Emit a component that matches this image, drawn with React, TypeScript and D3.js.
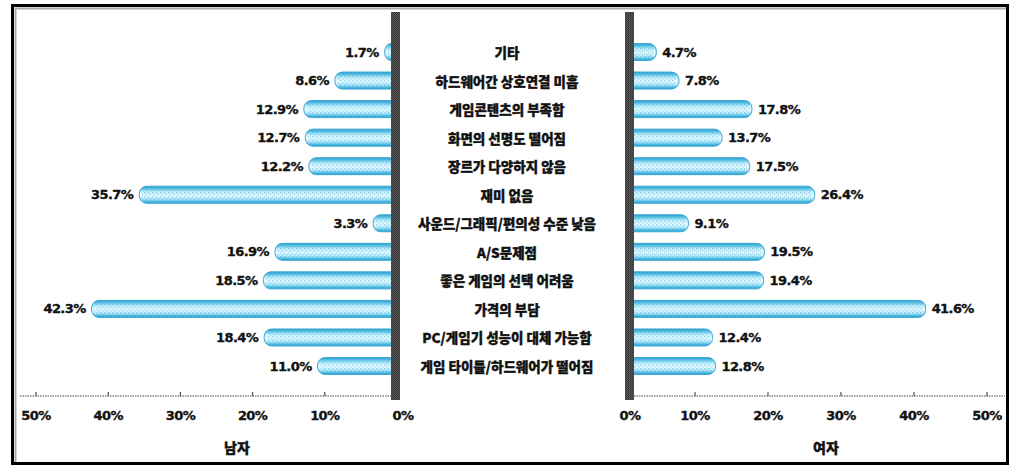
import React from "react";
import * as d3 from "d3";

const categories = [
  "기타",
  "하드웨어간 상호연결 미흡",
  "게임콘텐츠의 부족함",
  "화면의 선명도 떨어짐",
  "장르가 다양하지 않음",
  "재미 없음",
  "사운드/그래픽/편의성 수준 낮음",
  "A/S문제점",
  "좋은 게임의 선택 어려움",
  "가격의 부담",
  "PC/게임기 성능이 대체 가능함",
  "게임 타이틀/하드웨어가 떨어짐",
];
const maleValues = [1.7, 8.6, 12.9, 12.7, 12.2, 35.7, 3.3, 16.9, 18.5, 42.3, 18.4, 11.0];
const femaleValues = [4.7, 7.8, 17.8, 13.7, 17.5, 26.4, 9.1, 19.5, 19.4, 41.6, 12.4, 12.8];
const tickValues = [0, 10, 20, 30, 40, 50];
const maleTitle = "남자";
const femaleTitle = "여자";

const W = 1019;
const H = 468;

export default function App() {
  const xL = d3.scaleLinear().domain([0, 50]).range([397, 36]);
  const xR = d3.scaleLinear().domain([0, 50]).range([622, 987]);
  const y = d3.scalePoint<string>().domain(categories).range([52, 366]);
  const barH = 17;
  const greyL = { x: 391, w: 9 };
  const greyR = { x: 625, w: 9 };
  const greyTop = 12;
  const greyBottom = 400;
  const axisY = 396;
  const numFont = "'DejaVu Sans', sans-serif";
  const korFont = "'Noto Sans CJK KR', sans-serif";
  const heavy = { stroke: "#111", strokeWidth: 0.35 };

  return (
    <div style={{ position: "fixed", left: 0, top: 0, width: W, height: H, background: "#fff" }}>
      <svg width={W} height={H} style={{ display: "block" }}>
        <defs>
          <linearGradient id="barGrad" x1="0" y1="0" x2="0" y2="1">
            <stop offset="0" stopColor="#2a9fcf" />
            <stop offset="0.15" stopColor="#5cc0e4" />
            <stop offset="0.32" stopColor="#c4ecf8" />
            <stop offset="0.55" stopColor="#eefafe" />
            <stop offset="0.75" stopColor="#b6e6f5" />
            <stop offset="0.88" stopColor="#55bde2" />
            <stop offset="1" stopColor="#2a9fcf" />
          </linearGradient>
          <pattern id="dots" width="4" height="4" patternUnits="userSpaceOnUse">
            <rect x="0" y="0" width="1.3" height="1.3" fill="#4fb9e0" opacity="0.6" />
            <rect x="2" y="2" width="1.3" height="1.3" fill="#4fb9e0" opacity="0.6" />
          </pattern>
          <pattern id="greyPat" width="2" height="2" patternUnits="userSpaceOnUse">
            <rect width="2" height="2" fill="#5a5a5a" />
            <rect width="1" height="1" fill="#2e2e2e" />
            <rect x="1" y="1" width="1" height="1" fill="#3a3a3a" />
          </pattern>
        </defs>

        {/* frame */}
        <rect x={12.5} y={5.5} width={995} height={458} fill="none" stroke="#000" strokeWidth={3} />
        <path d="M15.5,462 V8.5 H1006" fill="none" stroke="#aaa" strokeWidth={2} />

        {/* male bars */}
        {categories.map((c, i) => {
          const v = maleValues[i];
          const x0 = xL(v);
          const cy = y(c)!;
          return (
            <g key={"m" + i}>
              <rect x={x0} y={cy - barH / 2} width={greyL.x + 7 - x0} height={barH} rx={7.5} ry={7.5}
                fill="url(#barGrad)" stroke="#3aa7d4" strokeWidth={1} />
              <rect x={x0 + 3} y={cy - barH / 2 + 3} width={Math.max(0, greyL.x + 4 - x0 - 3)} height={barH - 6}
                fill="url(#dots)" />
              <text x={x0 - 6} y={cy} textAnchor="end" dominantBaseline="central"
                fontFamily={numFont} fontWeight="bold" fontSize={13} letterSpacing={-0.6} fill="#111" {...heavy}>
                {v.toFixed(1)}%
              </text>
            </g>
          );
        })}

        {/* female bars */}
        {categories.map((c, i) => {
          const v = femaleValues[i];
          const x1 = xR(v);
          const cy = y(c)!;
          const xs = greyR.x + 2;
          return (
            <g key={"f" + i}>
              <rect x={xs} y={cy - barH / 2} width={x1 - xs} height={barH} rx={7.5} ry={7.5}
                fill="url(#barGrad)" stroke="#3aa7d4" strokeWidth={1} />
              <rect x={xs + 3} y={cy - barH / 2 + 3} width={Math.max(0, x1 - xs - 6)} height={barH - 6}
                fill="url(#dots)" />
              <text x={x1 + 6} y={cy} textAnchor="start" dominantBaseline="central"
                fontFamily={numFont} fontWeight="bold" fontSize={13} letterSpacing={-0.6} fill="#111" {...heavy}>
                {v.toFixed(1)}%
              </text>
            </g>
          );
        })}

        {/* grey center bars */}
        <rect x={greyL.x} y={greyTop} width={greyL.w} height={greyBottom - greyTop} fill="url(#greyPat)" />
        <rect x={greyR.x} y={greyTop} width={greyR.w} height={greyBottom - greyTop} fill="url(#greyPat)" />

        {/* category labels */}
        {categories.map((c) => (
          <text key={"c" + c} x={507} y={y(c)!} textAnchor="middle" dominantBaseline="central"
            fontFamily={korFont} fontWeight={900} fontSize={13.5} fill="#111" {...heavy}>
            {c}
          </text>
        ))}

        {/* left axis */}
        <line x1={20} x2={greyL.x} y1={axisY} y2={axisY} stroke="#444" strokeWidth={1} strokeDasharray="1.5,1" />
        {tickValues.map((t) => (
          <g key={"lt" + t}>
            {t !== 0 && <line x1={xL(t)} x2={xL(t)} y1={axisY - 4} y2={axisY} stroke="#333" strokeWidth={1} />}
            <text x={t === 0 ? xL(t) + 6 : xL(t)} y={415} textAnchor="middle" dominantBaseline="central"
              fontFamily={numFont} fontWeight="bold" fontSize={13} letterSpacing={-0.6} fill="#111" {...heavy}>
              {t}%
            </text>
          </g>
        ))}
        <text x={237} y={447} textAnchor="middle" dominantBaseline="central"
          fontFamily={korFont} fontWeight={900} fontSize={14} fill="#111" {...heavy}>{maleTitle}</text>

        {/* right axis */}
        <line x1={greyR.x + greyR.w} x2={1005} y1={axisY} y2={axisY} stroke="#444" strokeWidth={1} strokeDasharray="1.5,1" />
        {tickValues.map((t) => (
          <g key={"rt" + t}>
            {t !== 0 && <line x1={xR(t)} x2={xR(t)} y1={axisY - 4} y2={axisY} stroke="#333" strokeWidth={1} />}
            <text x={t === 0 ? xR(t) + 8 : xR(t)} y={415} textAnchor="middle" dominantBaseline="central"
              fontFamily={numFont} fontWeight="bold" fontSize={13} letterSpacing={-0.6} fill="#111" {...heavy}>
              {t}%
            </text>
          </g>
        ))}
        <text x={826} y={447} textAnchor="middle" dominantBaseline="central"
          fontFamily={korFont} fontWeight={900} fontSize={14} fill="#111" {...heavy}>{femaleTitle}</text>
      </svg>
    </div>
  );
}
